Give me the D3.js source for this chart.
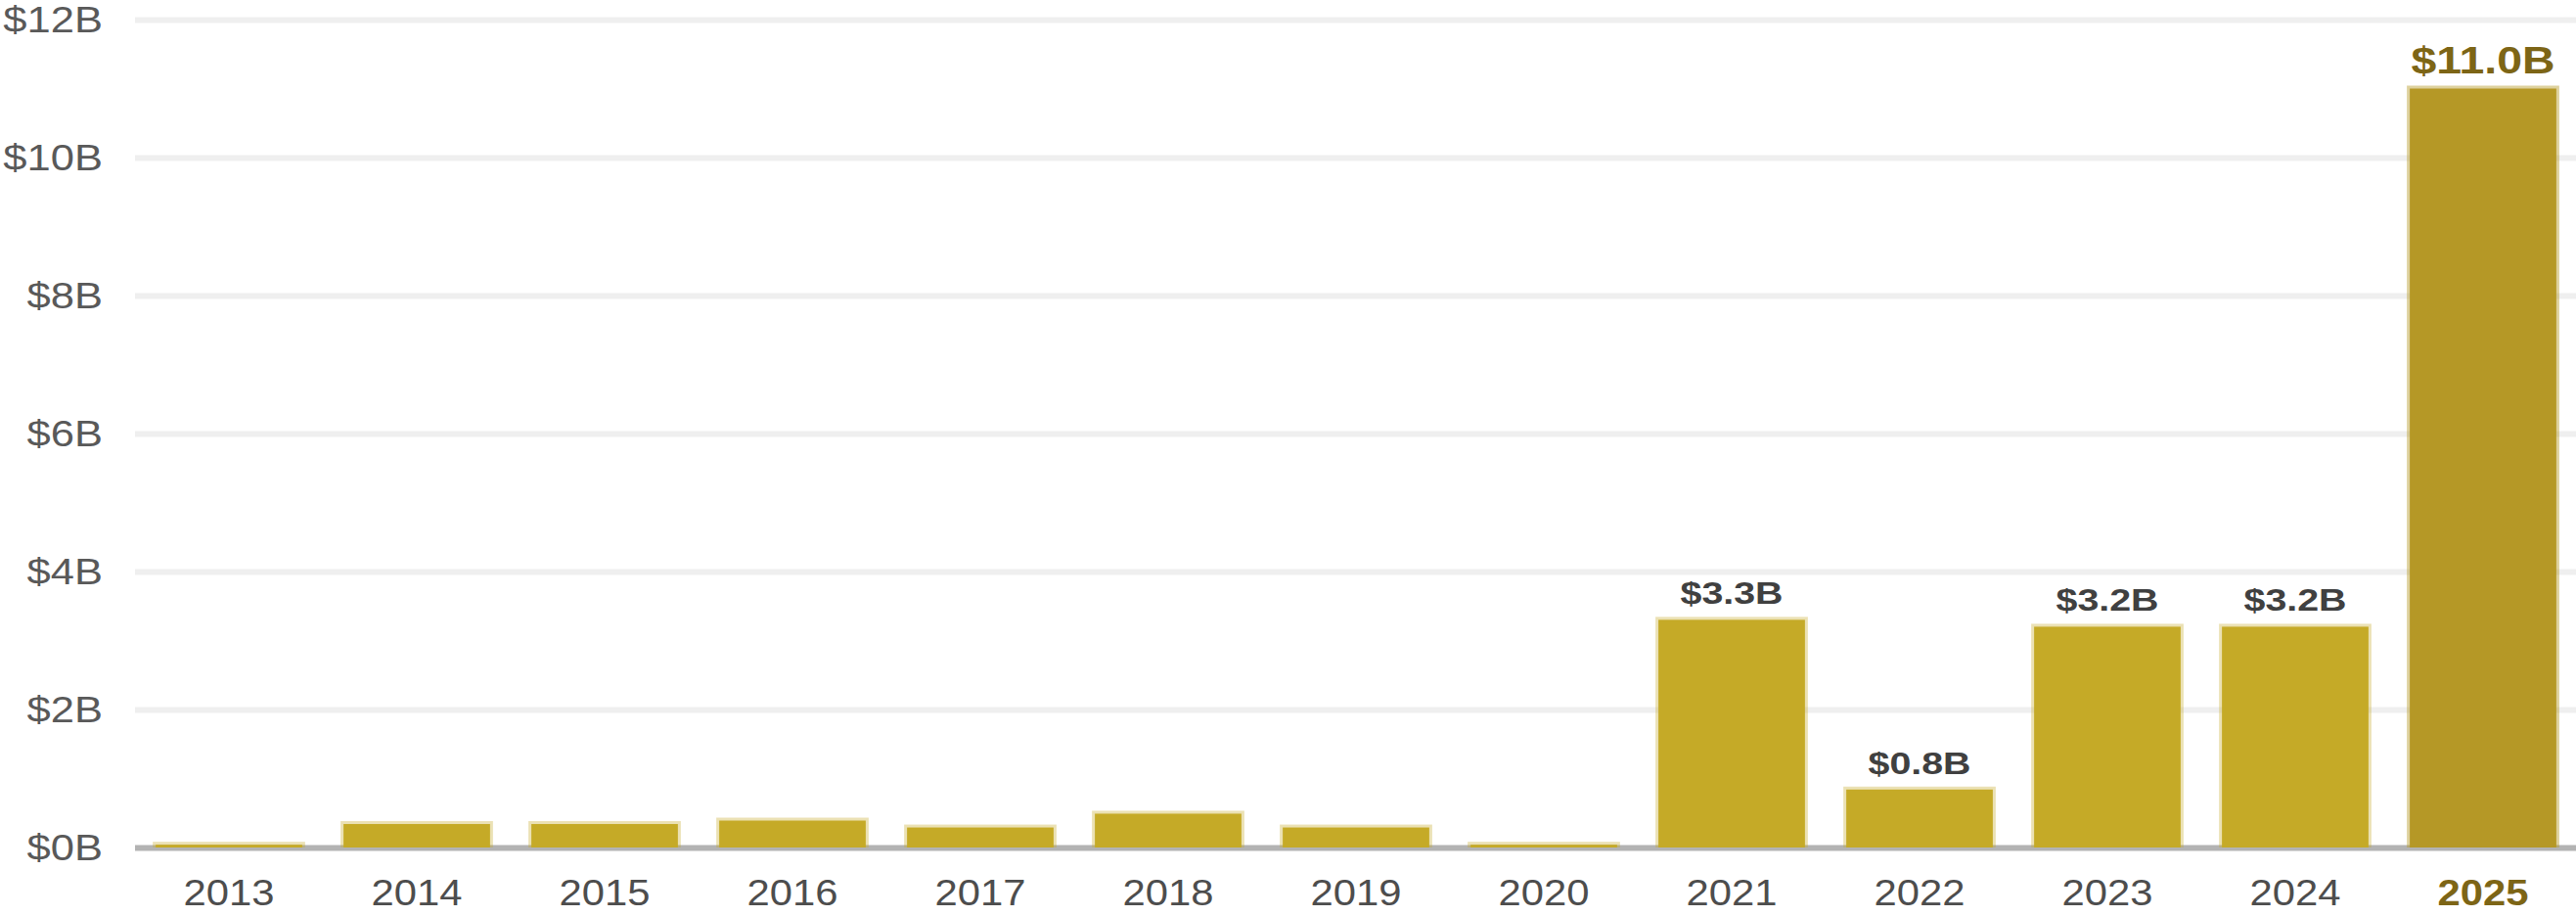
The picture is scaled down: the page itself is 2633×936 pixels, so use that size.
<!DOCTYPE html>
<html>
<head>
<meta charset="utf-8">
<script src="https://cdn.jsdelivr.net/npm/d3@7"></script>
<style>
  html, body { margin: 0; padding: 0; background: #fff; }
  svg { display: block; font-family: 'Liberation Sans', Arial, sans-serif; }
</style>
</head>
<body>
<svg id="chart" width="2633" height="936"></svg>
<script>
// data (billions of USD)
const years = ['2013', '2014', '2015', '2016', '2017', '2018', '2019', '2020', '2021', '2022', '2023', '2024', '2025'];
const values = [0.04, 0.34, 0.34, 0.39, 0.29, 0.49, 0.29, 0.04, 3.3, 0.84, 3.2, 3.2, 11.0];
const valueLabels = [null, null, null, null, null, null, null, null, '$3.3B', '$0.8B', '$3.2B', '$3.2B', '$11.0B'];
const yTicks = [0, 2, 4, 6, 8, 10, 12];
const highlightYear = '2025';

const W = 2633;
const plotLeft = 138;
const plotRight = 2634;
const plotTop = 20;
const plotBottom = 866;

const svg = d3.select('#chart');

const x = d3.scaleBand()
  .domain(years)
  .range([plotLeft, plotRight])
  .paddingInner(0.22)
  .paddingOuter(0.11);

const y = d3.scaleLinear()
  .domain([0, 12])
  .range([plotBottom, plotTop]);

// y grid + labels
const yAxis = svg.append('g')
  .attr('transform', `translate(${plotLeft},0)`)
  .call(d3.axisLeft(y)
    .tickValues(yTicks)
    .tickFormat((d) => `$${d}B`)
    .tickSize(-(W - plotLeft)));

yAxis.select('.domain').remove();
yAxis.selectAll('.tick line')
  .attr('stroke', (d) => (d === 0 ? '#b3b3b3' : '#efefef'))
  .attr('stroke-width', 6);
yAxis.selectAll('.tick text')
  .attr('fill', '#595959')
  .attr('font-size', 36)
  .attr('x', -33 / 1.21)
  .attr('dy', '0.36em')
  .attr('transform', 'scale(1.21,1)');

// bars
svg.append('g')
  .selectAll('rect')
  .data(years)
  .join('rect')
  .attr('x', (d) => x(d))
  .attr('y', (d, i) => y(values[i]))
  .attr('width', x.bandwidth())
  .attr('height', (d, i) => plotBottom - y(values[i]))
  .attr('fill', (d) => (d === highlightYear ? '#b59826' : '#c5aa27'))
  .attr('stroke', (d) => (d === highlightYear ? 'rgba(181,152,38,0.45)' : 'rgba(197,170,39,0.35)'))
  .attr('stroke-width', 6)
  .style('paint-order', 'stroke');

// lower half of the baseline sits over the bars
svg.append('line')
  .attr('x1', plotLeft)
  .attr('x2', W)
  .attr('y1', plotBottom + 1.5)
  .attr('y2', plotBottom + 1.5)
  .attr('stroke', '#b3b3b3')
  .attr('stroke-width', 3);

// value labels
svg.append('g')
  .selectAll('text')
  .data(years.filter((d, i) => valueLabels[i]))
  .join('text')
  .attr('transform', (d) => {
    const i = years.indexOf(d);
    const sx = d === highlightYear ? 1.19 : 1.23;
    return `translate(${x(d) + x.bandwidth() / 2},${y(values[i]) - 16}) scale(${sx},1)`;
  })
  .attr('text-anchor', 'middle')
  .attr('font-weight', 'bold')
  .attr('font-size', (d) => (d === highlightYear ? 39 : 32))
  .attr('fill', (d) => (d === highlightYear ? '#7d6516' : '#404040'))
  .text((d) => valueLabels[years.indexOf(d)]);

// x labels
const xAxis = svg.append('g')
  .attr('transform', `translate(0,${plotBottom})`)
  .call(d3.axisBottom(x).tickSize(0));

xAxis.select('.domain').remove();
xAxis.selectAll('.tick text')
  .attr('y', 59)
  .attr('dy', null)
  .attr('font-size', 37)
  .attr('font-weight', (d) => (d === highlightYear ? 'bold' : 'normal'))
  .attr('fill', (d) => (d === highlightYear ? '#7d6516' : '#4d4d4d'))
  .attr('transform', 'scale(1.13,1)');
</script>
</body>
</html>
